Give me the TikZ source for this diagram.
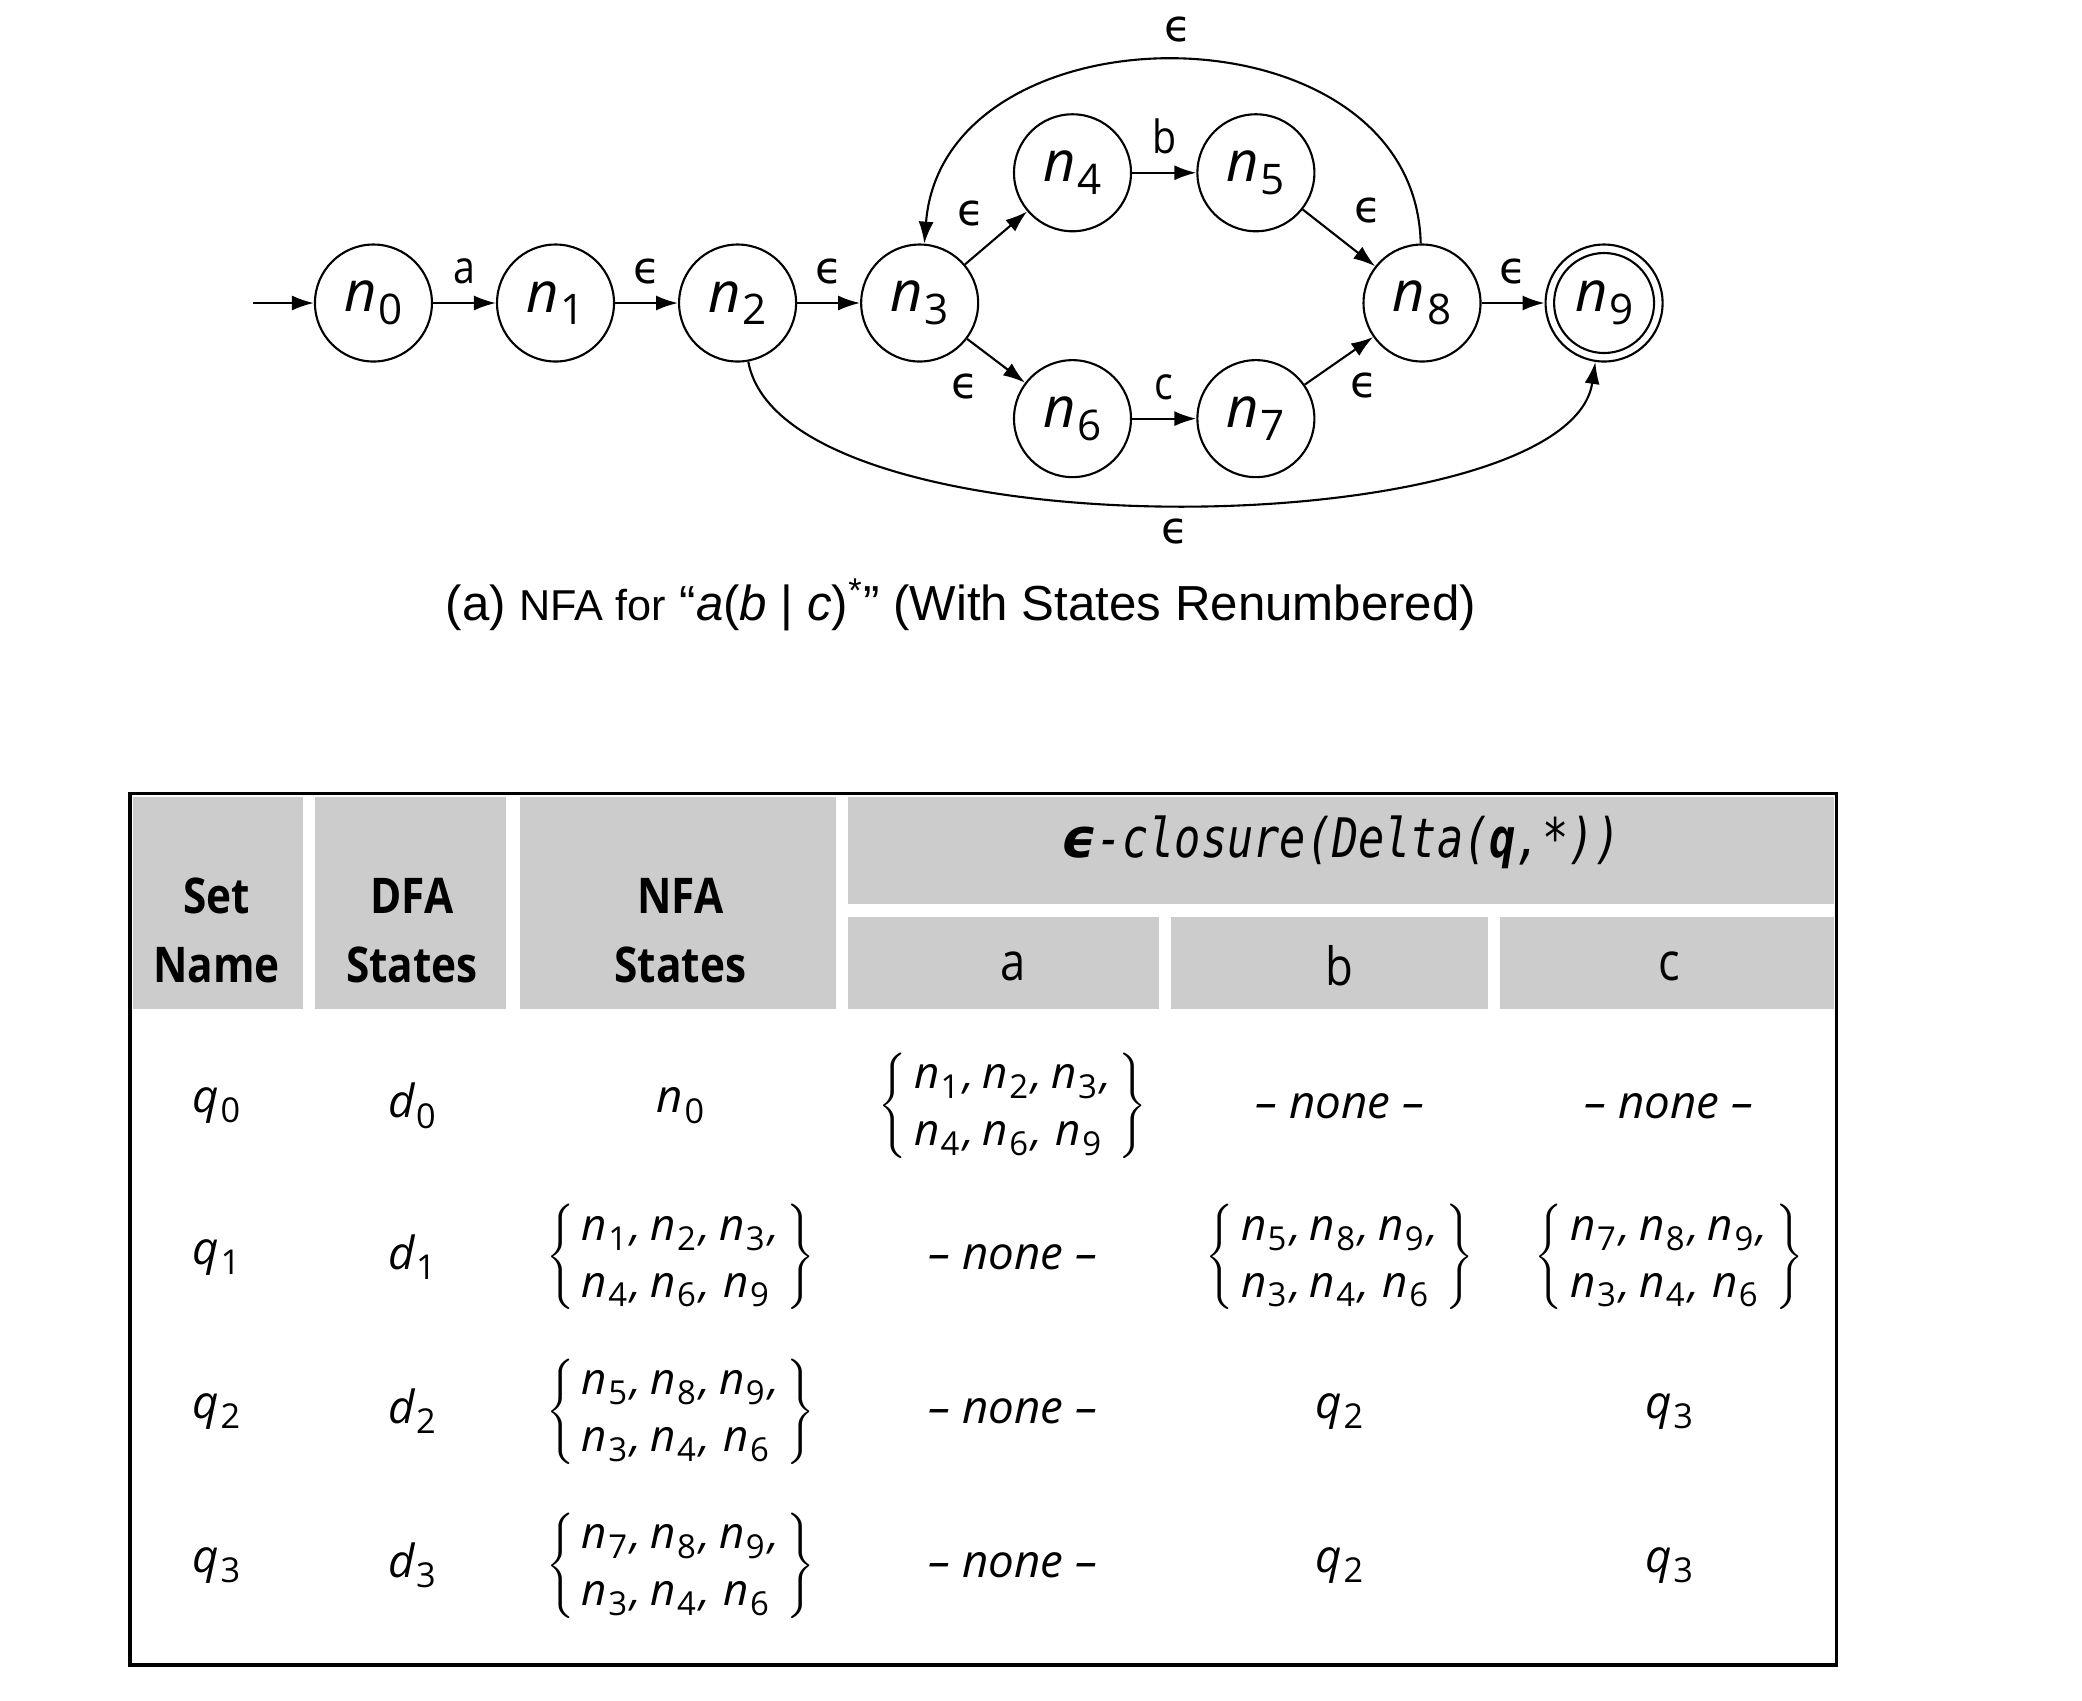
\documentclass[tikz,border=0pt]{standalone}
\usepackage{fontspec}
\usepackage{graphicx}
\usetikzlibrary{arrows.meta}
\setmainfont{Open Sans}
\newfontfamily\narrowfont[FakeStretch=0.86]{Open Sans}
\newfontfamily\capfont{Liberation Sans}
\newfontfamily\epsfont{DejaVu Sans}
\newfontfamily\codefont[FakeStretch=0.8]{DejaVu Sans Mono}
\definecolor{hdrgray}{HTML}{CCCCCC}

\newcommand{\sidx}[2]{\textit{#1}\kern0.03em\raisebox{-0.42ex}{\scalebox{0.75}{\upshape #2}}}
\newcommand{\nonecell}{\textit{– none –}}
\newcommand{\nset}[6]{{\fontsize{12.5}{16.2}\selectfont$\left\{\begin{tabular}{@{\,}l@{\,}}
    \sidx{n}{#1}\kern0.08em,\hspace{0.2em}\sidx{n}{#2}\kern0.08em,\hspace{0.2em}\sidx{n}{#3}\kern0.08em,\\
    \sidx{n}{#4}\kern0.08em,\hspace{0.2em}\sidx{n}{#5}\kern0.08em,\hspace{0.3em}\sidx{n}{#6}
    \end{tabular}\right\}$}}

\tikzset{
    state/.style={circle, draw, line width=0.6pt, minimum size=1.17cm, inner sep=0pt,
        font=\fontsize{16}{18}\selectfont},
    trans/.style={-{Latex[length=2.2mm,width=1.5mm]}, line width=0.6pt},
    lbl/.style={font=\narrowfont\fontsize{13}{15}\selectfont, inner sep=2pt},
    elbl/.style={font=\epsfont\fontsize{12.5}{14}\selectfont, inner sep=2pt},
    hdr/.style={font=\narrowfont\bfseries\fontsize{14}{19.7}\selectfont, align=center},
    code/.style={font=\codefont\itshape\fontsize{15.5}{18}\selectfont},
    sym/.style={font=\narrowfont\fontsize{15}{17}\selectfont},
    cell/.style={font=\itshape\fontsize{13}{15}\selectfont, inner sep=0pt}
}

\begin{document}
\begin{tikzpicture}[x=0.01329cm, y=-0.01329cm]
    \useasboundingbox (0,0) rectangle (1566.6,1279.4);

    \foreach \i/\x/\y in {0/281/228, 1/418/228, 2/555/228, 3/692/228, 4/807/130,
        5/945/130, 6/807/315, 7/945/315, 8/1070/228, 9/1207/228} {
        \node[state] (n\i) at (\x,\y) {\sidx{n}{\i}};
    }
    \draw[line width=0.6pt] (n9.center) circle[radius=0.5cm];

    \coordinate (start) at (190,228);
    \draw[trans] (start) -- (n0);
    \draw[trans] (n0) -- node[lbl, above=3pt] {a} (n1);
    \draw[trans] (n1) -- node[elbl, above=3pt] {ϵ} (n2);
    \draw[trans] (n2) -- node[elbl, above=3pt] {ϵ} (n3);
    \draw[trans] (n3) -- node[elbl, above left=1pt] {ϵ} (n4);
    \draw[trans] (n3) -- node[elbl, below left=2pt, pos=0.45] {ϵ} (n6);
    \draw[trans] (n4) -- node[lbl, above=3pt] {b} (n5);
    \draw[trans] (n6) -- node[lbl, above=3pt] {c} (n7);
    \draw[trans] (n5) -- node[elbl, above right=2pt] {ϵ} (n8);
    \draw[trans] (n7) -- node[elbl, below right=1pt] {ϵ} (n8);
    \draw[trans] (n8) -- node[elbl, above=3pt] {ϵ} (n9);
    \draw[trans] (n8) .. controls (1065,0) and (710,0) .. node[elbl, above=3pt] {ϵ} (n3);
    \draw[trans] (n2) .. controls (590,420) and (1180,410) .. node[elbl, below=2pt] {ϵ} (n9);

    \node[font=\capfont\fontsize{14}{16}\selectfont] (caption) at (723,455)
        {(a) {\fontsize{12.3}{14}\selectfont NFA for} “\textit{a}(\textit{b} | \textit{c})\textsuperscript{*}” (With States Renumbered)};

    % table header
    \foreach \xa/\ya/\xb/\yb in {100/600/228/759, 237/600/381/759, 391/600/629/759,
        638/600/1380/680, 638/690/872/759, 881/690/1120/759, 1129/690/1380/759}
        \fill[hdrgray] (\xa,\ya) rectangle (\xb,\yb);
    \draw[line width=1pt] (98,597) rectangle (1382,1253);

    \node[hdr] (hset) at (163,700) {Set\\Name};
    \node[hdr] (hdfa) at (310,700) {DFA\\States};
    \node[hdr] (hnfa) at (512,700) {NFA\\States};
    \node[code] (hclosure) at (1009,634)
        {{\epsfont\bfseries\itshape ϵ}-closure(Delta({\bfseries q},*))};
    \foreach \s/\x in {a/762, b/1008, c/1256}
        \node[sym] (h\s) at (\x,727) {\s};

    % table body
    \foreach \y/\nfa/\ca/\cb/\cc [count=\i from 0] in {
        832/{\sidx{n}{0}}/{\nset{1}{2}{3}{4}{6}{9}}/\nonecell/\nonecell,
        946/{\nset{1}{2}{3}{4}{6}{9}}/\nonecell/{\nset{5}{8}{9}{3}{4}{6}}/{\nset{7}{8}{9}{3}{4}{6}},
        1062/{\nset{5}{8}{9}{3}{4}{6}}/\nonecell/{\sidx{q}{2}}/{\sidx{q}{3}},
        1178/{\nset{7}{8}{9}{3}{4}{6}}/\nonecell/{\sidx{q}{2}}/{\sidx{q}{3}}} {
        \node[cell] (q\i) at (163,\y) {\sidx{q}{\i}};
        \node[cell] (d\i) at (310,\y) {\sidx{d}{\i}};
        \node[cell] (nfa\i) at (512,\y) {\nfa};
        \node[cell] (a\i) at (762,\y) {\ca};
        \node[cell] (b\i) at (1008,\y) {\cb};
        \node[cell] (c\i) at (1256,\y) {\cc};
    }
\end{tikzpicture}
\end{document}
